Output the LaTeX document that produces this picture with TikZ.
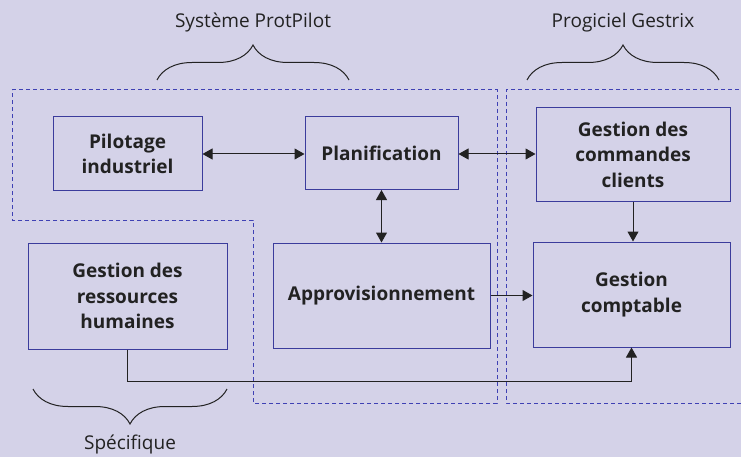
\documentclass[tikz,border=0pt]{standalone}
\usepackage{fontspec}
\setmainfont{Open Sans}
\usetikzlibrary{arrows.meta,decorations.pathreplacing}

\definecolor{fond}{HTML}{D4D2E8}
\definecolor{bleubord}{HTML}{3B3C9C}
\definecolor{bleutiret}{HTML}{3F41B4}
\definecolor{encre}{HTML}{222222}

\tikzset{
  module/.style={draw=bleubord,line width=1pt,align=center,text=encre,
    font=\fontsize{19}{25.5}\selectfont\bfseries,inner sep=2pt},
  perimetre/.style={draw=bleutiret,line width=1pt,dash pattern=on 4pt off 3pt},
  fleche/.style={draw=encre,line width=1pt,-{Triangle[length=10pt,width=11pt]}},
  double fleche/.style={draw=encre,line width=1pt,{Triangle[length=10pt,width=11pt]}-{Triangle[length=10pt,width=11pt]}},
  accolade/.style={draw=encre,line width=1pt,decorate,decoration={brace,amplitude=35pt}},
  legende/.style={text=encre,font=\fontsize{19}{22}\selectfont}
}

\begin{document}
\begin{tikzpicture}[x=1pt,y=-1pt]
    % Fond
    \fill[fond] (0,0) rectangle (741,457);
    \useasboundingbox (0,0) rectangle (741,457);

    % Perimetres (tirets)
    \draw[perimetre] (12,90) -- (497,90) -- (497,403) -- (253,403) -- (253,220) -- (12,220) -- cycle;
    \draw[perimetre] (760,90) -- (506,90) -- (506,403) -- (760,403);

    % Modules
    \node[module,minimum width=149pt,minimum height=74pt] (pilotage) at (127.5,154) {Pilotage\\industriel};
    \node[module,minimum width=153pt,minimum height=73pt] (planif) at (381.5,153) {Planification};
    \node[module,minimum width=194pt,minimum height=93pt] (commandes) at (633,154.5) {Gestion des\\commandes\\clients};
    \node[module,minimum width=199pt,minimum height=106pt] (rh) at (127.5,296) {Gestion des\\ressources\\humaines};
    \node[module,minimum width=217pt,minimum height=105pt] (appro) at (381.5,295.5) {Approvisionnement};
    \node[module,minimum width=197pt,minimum height=105pt] (compta) at (631.5,294.5) {Gestion\\comptable};

    % Liaisons
    \draw[double fleche] (pilotage.east) -- (pilotage.east -| planif.west);
    \draw[double fleche] (planif.east |- pilotage) -- (commandes.west |- pilotage);
    \draw[double fleche] (planif) -- (appro);
    \draw[fleche] (commandes) -- (commandes |- compta.north);
    \draw[fleche] (appro) -- (appro -| compta.west);
    \coordinate (coude) at (631.5,381);
    \draw[fleche] (rh.south) |- (coude) -- (compta.south);

    % Accolades
    \draw[accolade] (157,80) -- (349,80);
    \draw[accolade] (527,80) -- (719,80);
    \draw[accolade] (227,389) -- (33,389);

    % Legendes
    \node[legende] (protpilot) at (253,23) {Système ProtPilot};
    \node[legende] (gestrix) at (623,23) {Progiciel Gestrix};
    \node[legende] (specifique) at (130,445) {Spécifique};
\end{tikzpicture}
\end{document}
